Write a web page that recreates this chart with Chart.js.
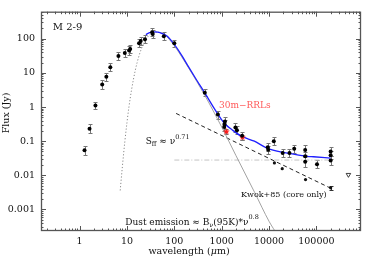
<!DOCTYPE html>
<html><head><meta charset="utf-8">
<script src="https://cdn.jsdelivr.net/npm/chart.js@4.4.0/dist/chart.umd.min.js"></script>
<style>html,body{margin:0;padding:0;background:#fff;}canvas{display:block;}</style>
</head><body>
<canvas id="c" width="366" height="258"></canvas>
<script>
// ---- data ----
const obsWave = [1.27,1.62,2.16,3.0,3.67,4.45,6.6,9.0,11.1,11.7,18,19.5,24,34,35,60,100,440,830,1170,1150,1130,1950,2100,2700,9400,9600,12600,19400,27000,34000,58000,58000,58000,103000,200000,200000,200000];
const obsFlux = [0.054,0.23,1.1,4.6,7.7,14.6,31,38,45,50,74,86,96,154,138,118,74,2.6,0.6,0.38,0.31,0.26,0.25,0.21,0.145,0.066,0.056,0.10,0.045,0.045,0.06,0.055,0.036,0.025,0.021,0.05,0.039,0.027];
const obsErr  = [0.14,0.13,0.1,0.12,0.12,0.12,0.12,0.12,0.12,0.12,0.12,0.12,0.12,0.12,0.12,0.12,0.1,0.1,0.12,0.12,0.12,0.12,0.12,0.12,0.12,0.12,0.12,0.12,0.12,0.12,0.12,0.14,0.14,0.14,0.12,0.12,0.12,0.12];

const rrlWave = [1260, 2750];
const rrlFlux = [0.19, 0.13];
const rrlErr  = [0.08, 0.08];

const kwokWave = [13000, 19000, 59000, 200000];
const kwokFlux = [0.023, 0.0157, 0.0075, 0.0043];
const kwokErr  = [0, 0, 0, 0.06];

const limWave = [475000];
const limFlux = [0.0104];

const modelWave = [25,30,40,50,70,100,142,200,300,440,700,1150,1700,2600,4900,9000,21000,28000,64000,87000,200000];
const modelFlux = [133,150,158,150,120,68,33,15,6,2.6,0.9,0.33,0.21,0.14,0.10,0.063,0.046,0.043,0.036,0.035,0.032];

const dustWaveL = [7.2,8,9,10,11,12.5,15,18,22,28,35,45];
const dustFluxL = [0.0036,0.018,0.095,0.35,1.0,3.2,12,32,68,118,148,156];
const dustWaveR = [45,60,100,200,440,1000,2000,5000,10000,15000];
const dustFluxR = [156,138,62,14,2.2,0.26,0.038,0.0031,0.00045,0.00018];

const sffWave = [109, 200000];
const sffFlux = [0.65, 0.0042];

const hlineWave = [100, 200000];
const hlineFlux = [0.028, 0.028];

const xTickVals = [1,10,100,1000,10000,100000];
const yTickVals = [0.001,0.01,0.1,1,10,100];

// ---- helpers ----
const pts = (xs, ys) => xs.map((v,i)=>({x:v, y:ys[i]}));
const FONT = '"DejaVu Serif"';

function makeStar(r, color){
  const s = Math.ceil(r*2+2);
  const c = document.createElement('canvas'); c.width = c.height = s;
  const g = c.getContext('2d'); g.fillStyle = color; g.beginPath();
  for (let i=0;i<10;i++){
    const a = -Math.PI/2 + i*Math.PI/5, rr = (i%2) ? r*0.45 : r;
    g.lineTo(s/2 + rr*Math.cos(a), s/2 + rr*Math.sin(a));
  }
  g.closePath(); g.fill();
  return c;
}

function rich(ctx, x, yc, parts, align){
  let w = 0;
  parts.forEach(([t,size,dy,st])=>{ ctx.font = `${st||''} ${size}px ${FONT}`; w += ctx.measureText(t).width; });
  let cx = align==='center' ? x - w/2 : x;
  ctx.textBaseline = 'middle'; ctx.textAlign = 'left';
  parts.forEach(([t,size,dy,st])=>{
    ctx.font = `${st||''} ${size}px ${FONT}`;
    ctx.fillText(t, cx, yc + (dy||0));
    cx += ctx.measureText(t).width;
  });
}

const errPlugin = {
  id:'errbars',
  beforeDatasetsDraw(chart){
    const {ctx, chartArea:a, scales:{x,y}} = chart;
    ctx.save();
    ctx.beginPath(); ctx.rect(a.left,a.top,a.width,a.height); ctx.clip();
    chart.data.datasets.forEach(ds=>{
      if (!ds.errDex) return;
      ctx.strokeStyle = ds.errColor || '#777'; ctx.lineWidth = 1;
      ds.data.forEach((p,i)=>{
        const e = ds.errDex[i]; if (!e) return;
        const cx = Math.round(x.getPixelForValue(p.x)) + 0.5;
        const y1 = Math.round(y.getPixelForValue(p.y*Math.pow(10,e))) + 0.5;
        const y2 = Math.round(y.getPixelForValue(p.y/Math.pow(10,e))) + 0.5;
        ctx.beginPath();
        ctx.moveTo(cx,y1); ctx.lineTo(cx,y2);
        ctx.moveTo(cx-2,y1); ctx.lineTo(cx+2,y1);
        ctx.moveTo(cx-2,y2); ctx.lineTo(cx+2,y2);
        ctx.stroke();
      });
    });
    ctx.restore();
  }
};

const framePlugin = {
  id:'frame',
  afterDraw(chart){
    const {ctx, chartArea:a, scales:{x,y}} = chart;
    ctx.save();
    ctx.strokeStyle = '#555'; ctx.lineWidth = 1;
    ctx.beginPath();
    for (let e=-1;e<=6;e++) for (let m=1;m<10;m++){
      const v = m*Math.pow(10,e);
      if (v < x.min || v > x.max) continue;
      const px = Math.round(x.getPixelForValue(v)) + 0.5, L = m===1 ? 5 : 2.5;
      ctx.moveTo(px,a.bottom); ctx.lineTo(px,a.bottom-L);
      ctx.moveTo(px,a.top); ctx.lineTo(px,a.top+L);
    }
    for (let e=-4;e<=3;e++) for (let m=1;m<10;m++){
      const v = m*Math.pow(10,e);
      if (v < y.min || v > y.max) continue;
      const py = Math.round(y.getPixelForValue(v)) + 0.5, L = m===1 ? 5 : 2.5;
      ctx.moveTo(a.left,py); ctx.lineTo(a.left+L,py);
      ctx.moveTo(a.right,py); ctx.lineTo(a.right-L,py);
    }
    ctx.stroke();
    ctx.lineWidth = 1.3; ctx.strokeStyle = '#555';
    ctx.strokeRect(a.left+0.5, a.top+0.5, a.width-1, a.height-1);

    // annotations, anchored in data coordinates
    const X = v=>x.getPixelForValue(v), Y = v=>y.getPixelForValue(v);
    ctx.fillStyle = '#111';
    rich(ctx, X(0.272), Y(215), [['M 2-9',10,0]]);
    ctx.fillStyle = '#ff5a5a';
    rich(ctx, X(879), Y(1.07), [['30m\u2212RRLs',9,0]]);
    ctx.fillStyle = '#111';
    rich(ctx, X(24.8), Y(0.097), [['S',9,0],['ff',6.5,2.5],[' \u2248 ',9,0],['\u03bd',9,0],['0.71',6.5,-4.5]]);
    rich(ctx, X(2570), Y(0.0027), [['Kwok+85 (core only)',8,0]]);
    rich(ctx, X(9.2), Y(0.00041), [['Dust emission \u2248 B',9,0],['\u03bd',6.5,2.5],['(95K)*',9,0],['\u03bd',9,0],['0.8',6.5,-5]]);
    // axis titles
    rich(ctx, 189, 251.5, [['wavelength (',9.5,0],['\u03bc',9.5,0,'italic'],['m)',9.5,0]], 'center');
    ctx.save(); ctx.translate(7, 113); ctx.rotate(-Math.PI/2);
    rich(ctx, 0, 0, [['Flux (Jy)',9.5,0]], 'center');
    ctx.restore();
    ctx.restore();
  }
};

const star = makeStar(3.5, '#ff1a1a');

new Chart(document.getElementById('c'), {
  type:'scatter',
  data:{ datasets:[
    { data: pts(obsWave, obsFlux), errDex: obsErr, pointRadius:2, backgroundColor:'#000', borderWidth:0 },
    { data: pts(rrlWave, rrlFlux), errDex: rrlErr, pointStyle: star, pointRadius:4 },
    { data: pts(kwokWave, kwokFlux), errDex: kwokErr, errColor:'#333', pointRadius:1.6, backgroundColor:'#111', borderWidth:0 },
    { data: pts(limWave, limFlux), pointStyle:'triangle', rotation:180, pointRadius:2.6, backgroundColor:'rgba(0,0,0,0)', borderColor:'#111', borderWidth:0.8 },
    { data: pts(modelWave, modelFlux), showLine:true, pointRadius:0, borderColor:'#1f1fff', borderWidth:1.3, cubicInterpolationMode:'monotone' },
    { data: pts(dustWaveL, dustFluxL), showLine:true, pointRadius:0, borderColor:'#888', borderWidth:1, borderDash:[1.2,2], cubicInterpolationMode:'monotone' },
    { data: pts(dustWaveR, dustFluxR), showLine:true, pointRadius:0, borderColor:'#999', borderWidth:0.9, cubicInterpolationMode:'monotone' },
    { data: pts(sffWave, sffFlux), showLine:true, pointRadius:0, borderColor:'#222', borderWidth:1, borderDash:[4,3] },
    { data: pts(hlineWave, hlineFlux), showLine:true, pointRadius:0, borderColor:'#c4c4c4', borderWidth:1, borderDash:[5,2,1,2] }
  ]},
  options:{
    responsive:false, animation:false, events:[],
    layout:{ padding:{ top:1, right:2, left:0, bottom:0 } },
    plugins:{ legend:{display:false}, tooltip:{enabled:false} },
    scales:{
      x:{ type:'logarithmic', min:0.153, max:875000,
          grid:{display:false, drawTicks:false}, border:{display:false},
          afterBuildTicks: s => { s.ticks = xTickVals.map(v=>({value:v})); },
          afterFit: s => { s.height = 27; },
          ticks:{ autoSkip:false, maxRotation:0, padding:5, color:'#111', font:{family:'DejaVu Serif', size:9.5}, callback: v => String(v) } },
      y:{ type:'logarithmic', min:0.000234, max:620,
          grid:{display:false, drawTicks:false}, border:{display:false},
          afterBuildTicks: s => { s.ticks = yTickVals.map(v=>({value:v})); },
          afterFit: s => { s.width = 41; },
          ticks:{ autoSkip:false, padding:6, color:'#111', font:{family:'DejaVu Serif', size:9.5}, callback: v => String(v) } }
    }
  },
  plugins:[errPlugin, framePlugin]
});
</script>
</body></html>
